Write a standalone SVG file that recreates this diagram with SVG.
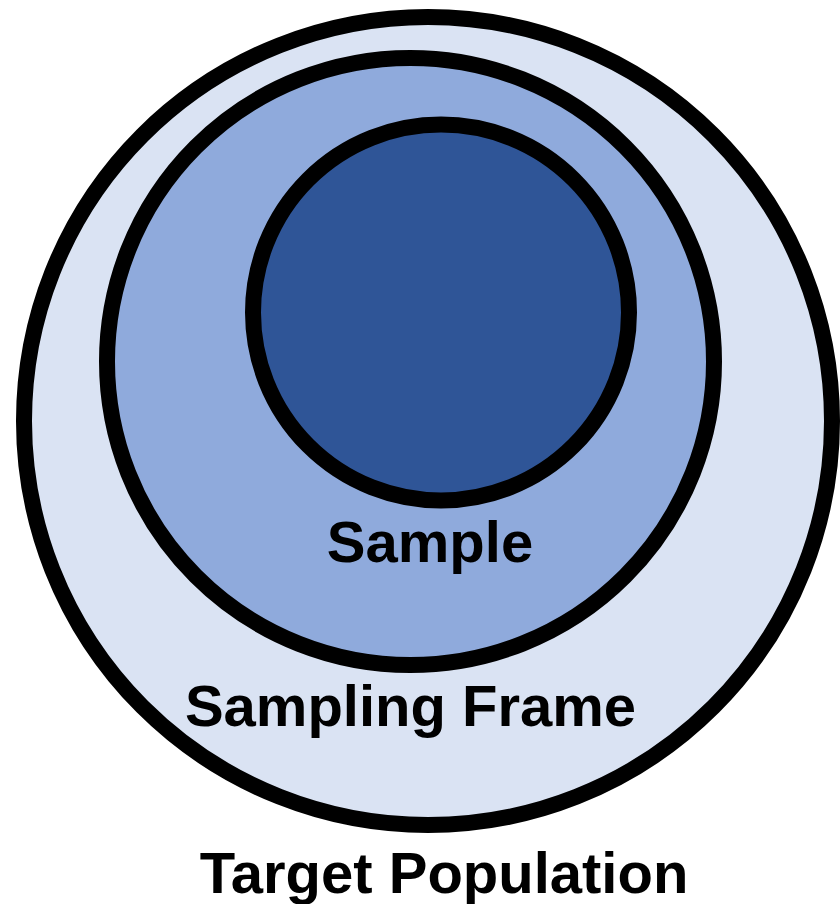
<svg xmlns="http://www.w3.org/2000/svg" width="840" height="904" viewBox="0 0 840 904">
<style>
.ring{stroke:#000;stroke-width:16}
.lbl{font-family:"Liberation Sans",Arial,sans-serif;font-weight:bold;font-size:58px;fill:#000;text-anchor:middle}
</style>
<rect width="840" height="904" fill="#fff"/>
<g id="target-population">
<circle class="ring" cx="428" cy="421" r="404" fill="#DAE3F3"/>
</g>
<g id="sampling-frame">
<circle class="ring" cx="410.5" cy="361.5" r="303.5" fill="#8FAADC"/>
</g>
<g id="sample">
<circle class="ring" cx="441" cy="312.5" r="188" fill="#2F5597"/>
</g>
<g id="connectors"></g>
<text class="lbl" x="430" y="562">Sample</text>
<text class="lbl" x="410.5" y="726">Sampling Frame</text>
<text class="lbl" x="444" y="893">Target Population</text>
</svg>
